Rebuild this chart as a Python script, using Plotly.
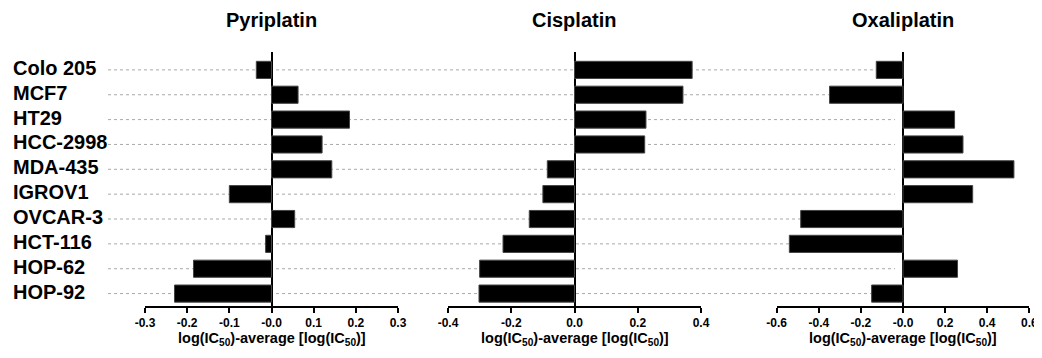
import plotly.graph_objects as go

cell_lines = ["Colo 205", "MCF7", "HT29", "HCC-2998", "MDA-435",
              "IGROV1", "OVCAR-3", "HCT-116", "HOP-62", "HOP-92"]
pyriplatin = [-0.036, 0.063, 0.185, 0.120, 0.143, -0.100, 0.055, -0.014, -0.185, -0.230]
cisplatin = [0.372, 0.343, 0.226, 0.222, -0.086, -0.100, -0.143, -0.226, -0.300, -0.302]
oxaliplatin = [-0.127, -0.349, 0.245, 0.285, 0.527, 0.331, -0.486, -0.540, 0.259, -0.149]
titles = ["Pyriplatin", "Cisplatin", "Oxaliplatin"]
x_ranges = [[-0.3, 0.3], [-0.4, 0.4], [-0.6, 0.6]]
x_ticks = [[-0.3, -0.2, -0.1, 0.0, 0.1, 0.2, 0.3],
           [-0.4, -0.2, 0.0, 0.2, 0.4],
           [-0.6, -0.4, -0.2, 0.0, 0.2, 0.4, 0.6]]
x_ticktext = [["-0.3", "-0.2", "-0.1", "-0.0", "0.1", "0.2", "0.3"],
              ["-0.4", "-0.2", "0.0", "0.2", "0.4"],
              ["-0.6", "-0.4", "-0.2", "-0.0", "0.2", "0.4", "0.6"]]
axis_title = "<b>log(IC<sub>50</sub>)-average [log(IC<sub>50</sub>)]</b>"

# page body has an 8px margin; size the figure so it fills the window exactly
OFF = 8
W, H = 1042 - OFF, 358 - OFF
FONT = "Arial, Liberation Sans, sans-serif"

def px_x(p):
    return (p - OFF) / W

def px_y(p):
    return 1 - (p - OFF) / H

domains = [(145, 398), (448, 701), (776.7, 1029.3)]
y_dom = [px_y(306), px_y(52)]

fig = go.Figure()
series = [pyriplatin, cisplatin, oxaliplatin]
for i, vals in enumerate(series):
    sfx = "" if i == 0 else str(i + 1)
    fig.add_trace(go.Bar(
        x=vals, y=list(range(len(cell_lines))), orientation="h",
        marker=dict(color="black", line=dict(color="#444", width=1)),
        width=0.69, xaxis="x" + sfx, yaxis="y" + sfx, showlegend=False,
        hovertext=cell_lines,
    ))

layout = dict(
    width=W, height=H,
    margin=dict(l=0, r=0, t=0, b=0, autoexpand=False),
    plot_bgcolor="white", paper_bgcolor="white",
    font=dict(family=FONT, color="black"),
)
for i in range(3):
    sfx = "" if i == 0 else str(i + 1)
    layout["xaxis" + sfx] = dict(
        domain=[px_x(domains[i][0]), px_x(domains[i][1])],
        anchor="y" + sfx, range=x_ranges[i], automargin=False,
        tickvals=x_ticks[i], ticktext=["<b>%s</b>" % t for t in x_ticktext[i]],
        tickfont=dict(size=12, family=FONT, color="black"),
        ticks="outside", ticklen=5, tickwidth=1.5, tickcolor="black",
        showline=True, linecolor="black", linewidth=1.5,
        showgrid=False, zeroline=True, zerolinecolor="black", zerolinewidth=1.5,
        fixedrange=True,
    )
    layout["yaxis" + sfx] = dict(
        domain=y_dom, anchor="x" + sfx, range=[9.5, -0.72], automargin=False,
        showticklabels=False, showgrid=False, zeroline=False, showline=False,
        ticks="", fixedrange=True,
    )
fig.update_layout(**layout)

shapes = []
annotations = []
for j, name in enumerate(cell_lines):
    shapes.append(dict(type="line", xref="paper", yref="y", x0=px_x(108), x1=px_x(895),
                       y0=j, y1=j, layer="below",
                       line=dict(color="#a8a8a8", width=1, dash="dot")))
    annotations.append(dict(text="<b>%s</b>" % name, xref="paper", yref="y",
                            x=px_x(11), y=j, xanchor="left", yanchor="middle",
                            showarrow=False, yshift=2,
                            font=dict(size=20, family=FONT, color="black")))
centers = [271, 574, 902.7]
for i, t in enumerate(titles):
    annotations.append(dict(text="<b>%s</b>" % t, xref="paper", yref="paper",
                            x=px_x(centers[i]), y=px_y(20), xanchor="center",
                            yanchor="middle", showarrow=False,
                            font=dict(size=20, family=FONT, color="black")))
    mid = (domains[i][0] + domains[i][1]) / 2
    annotations.append(dict(text=axis_title, xref="paper", yref="paper",
                            x=px_x(mid), y=px_y(329), xanchor="center",
                            yanchor="top", showarrow=False, borderpad=0,
                            font=dict(size=14.5, family=FONT, color="black")))
fig.update_layout(shapes=shapes, annotations=annotations)

fig.write_html("out.html")
